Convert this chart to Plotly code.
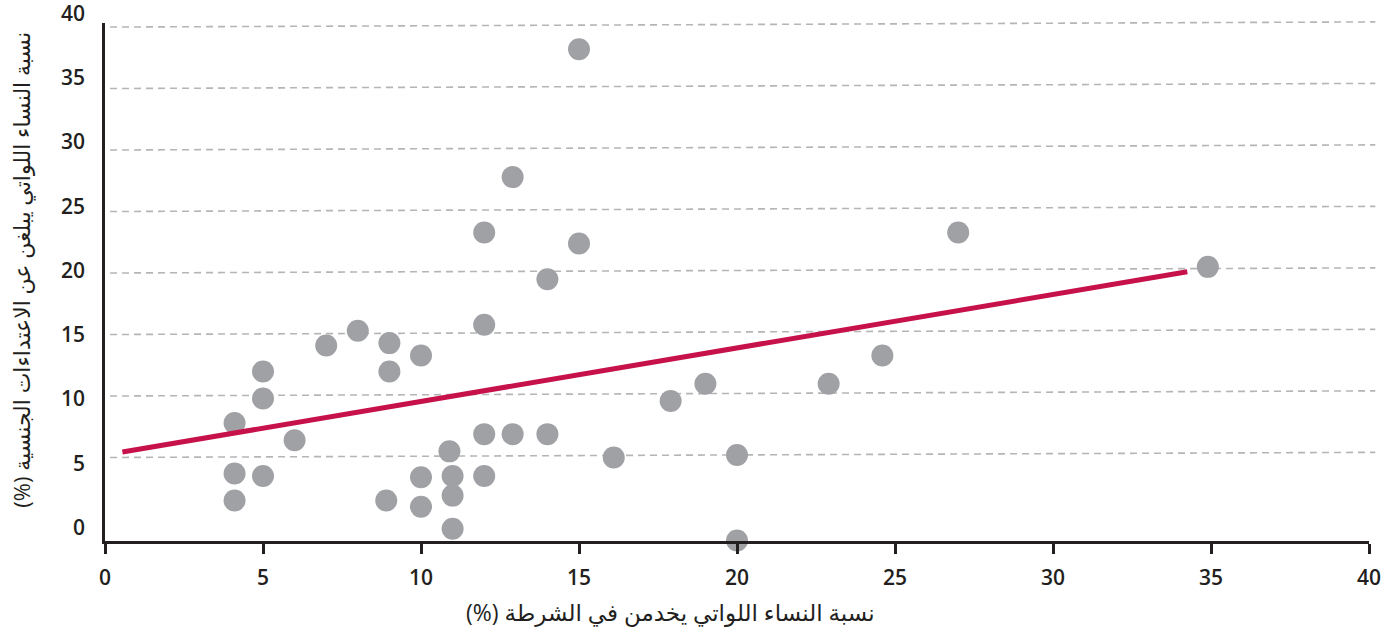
import plotly.graph_objects as go

# Data
police_share = [15.0, 12.9, 12.0, 15.0, 14.0, 27.0, 34.9, 12.0, 8.0, 7.0,
                9.0, 10.0, 9.0, 5.0, 5.0, 4.1, 6.0, 4.1, 5.0, 4.1,
                8.9, 10.0, 10.0, 10.9, 11.0, 11.0, 11.0, 12.0, 12.0, 12.9,
                14.0, 16.1, 17.9, 19.0, 20.0, 20.0, 22.9, 24.6]
assault_share = [38.2, 27.8, 23.3, 22.4, 19.5, 23.3, 20.5, 15.8, 15.3, 14.1,
                 14.3, 13.3, 12.0, 12.0, 9.8, 7.8, 6.4, 3.7, 3.5, 1.5,
                 1.5, 3.4, 1.0, 5.5, 3.5, 1.9, -0.8, 3.5, 6.9, 6.9,
                 6.9, 5.0, 9.6, 11.0, 5.2, -1.75, 11.0, 13.3]
trend_x = [0.55, 34.25]
trend_y = [5.45, 20.1]
tick_values = [0, 5, 10, 15, 20, 25, 30, 35, 40]
x_title = "نسبة النساء اللواتي يخدمن في الشرطة (%)"
y_title = "نسبة النساء اللواتي يبلغن عن الاعتداءات الجنسية (%)"

DARK = "#231f20"
FONT = "Open Sans, Noto Sans, DejaVu Sans, sans-serif"
Y_RANGE = [-1.79, 40.33]
RLE, PDF = "\u202B", "\u202C"


def to_paper(v):
    return (v - Y_RANGE[0]) / (Y_RANGE[1] - Y_RANGE[0])


fig = go.Figure()
fig.add_trace(go.Scatter(
    x=police_share, y=assault_share, mode="markers",
    marker=dict(size=22, color="#a0a1a5", line=dict(width=0)),
    cliponaxis=False, showlegend=False, hoverinfo="x+y"))
fig.add_trace(go.Scatter(
    x=trend_x, y=trend_y, mode="lines",
    line=dict(color="#c6114a", width=5), showlegend=False))

shapes = []
for v in tick_values[1:]:
    shapes.append(dict(type="line", xref="paper", yref="paper",
                       x0=0.004, x1=1.005, y0=to_paper(v), y1=to_paper(v + 0.42),
                       line=dict(color="#b5b5b8", width=1.6, dash="7px,5px"),
                       layer="below"))

annotations = []
for v in tick_values:
    annotations.append(dict(text=str(v), xref="paper", yref="paper",
                            x=-0.014, y=to_paper(v * 1.045 - 0.65),
                            xanchor="right", yanchor="middle", showarrow=False,
                            font=dict(family=FONT, size=21, color=DARK, weight=600)))
annotations.append(dict(text=RLE + x_title + PDF, xref="paper", yref="paper",
                        x=0.447, y=-0.138, xanchor="center", yanchor="middle",
                        showarrow=False,
                        font=dict(family=FONT, size=23, color=DARK)))
annotations.append(dict(text=RLE + y_title + PDF, xref="paper", yref="paper",
                        x=-0.066, y=0.523, xanchor="center", yanchor="middle",
                        textangle=-90, showarrow=False,
                        font=dict(family=FONT, size=22, color=DARK)))

fig.update_layout(
    width=1399, height=636,
    margin=dict(l=105, r=30, t=23, b=95),
    paper_bgcolor="white", plot_bgcolor="white",
    shapes=shapes, annotations=annotations,
    xaxis=dict(range=[0, 40], tickvals=tick_values, showgrid=False,
               zeroline=False, showline=True, linecolor=DARK, linewidth=3,
               ticks="outside", ticklen=10, tickwidth=3, tickcolor=DARK,
               ticklabelstandoff=6,
               tickfont=dict(family=FONT, size=21, color=DARK, weight=600)),
    yaxis=dict(range=Y_RANGE, showgrid=False, zeroline=False,
               showline=True, linecolor=DARK, linewidth=3,
               showticklabels=False, ticks=""),
)

fig.write_html("out.html", config={"displayModeBar": False},
               post_script="document.body.style.margin='0';")
